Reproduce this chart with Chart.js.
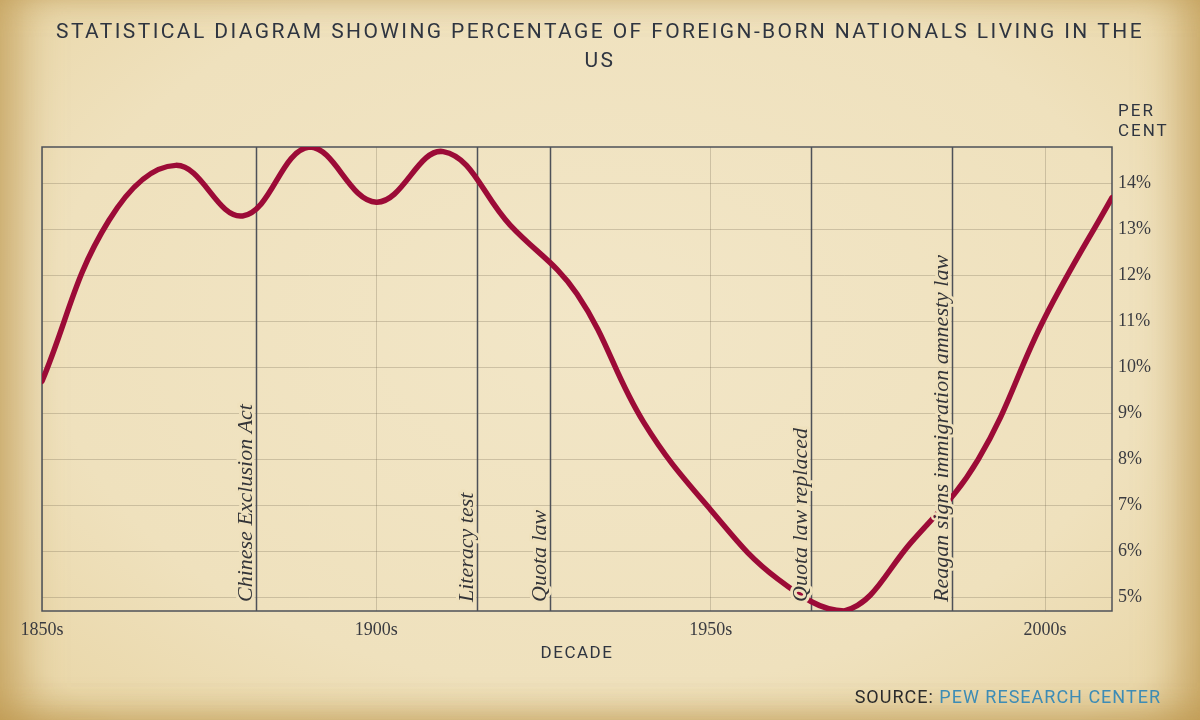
<!DOCTYPE html>
<html>
<head>
<meta charset="utf-8">
<script src="https://cdn.jsdelivr.net/npm/chart.js@4.4.1/dist/chart.umd.min.js"></script>
<style>
  html, body { margin: 0; padding: 0; }
  #wrap {
    width: 1200px; height: 720px; position: relative;
    background: radial-gradient(ellipse at 50% 45%, #f2e6c7 0%, #efe1bd 65%, #ead8ab 90%, #dfc792 100%);
    box-shadow: inset 34px 0 40px -12px rgba(185,145,70,0.6), inset -34px 0 40px -12px rgba(185,145,70,0.6),
                inset 0 -20px 30px -10px rgba(185,145,70,0.35);
  }
  canvas { position: absolute; left: 0; top: 0; }
</style>
</head>
<body>
<div id="wrap"><canvas id="chart"></canvas></div>
<script>
// foreign-born share of US population, by decade
var decades = [1850, 1860, 1870, 1880, 1890, 1900, 1910, 1920, 1930, 1940, 1950, 1960, 1970, 1980, 1990, 2000, 2010];
var percent = [9.7, 13.2, 14.4, 13.3, 14.8, 13.6, 14.7, 13.1, 11.6, 8.8, 6.9, 5.4, 4.7, 6.2, 8.0, 11.1, 13.7];

var eventYears = [1882, 1915, 1926, 1965, 1986];
var eventLabels = ['Chinese Exclusion Act', 'Literacy test', 'Quota law', 'Quota law replaced', 'Reagan signs immigration amnesty law'];

var yTicks = [5, 6, 7, 8, 9, 10, 11, 12, 13, 14];
var xTicks = [1850, 1900, 1950, 2000];

var titleLines = ['STATISTICAL DIAGRAM SHOWING PERCENTAGE OF FOREIGN-BORN NATIONALS LIVING IN THE', 'US'];

var inkColor = '#2f3540';
var lineColor = '#9c0b37';
var haloColor = '#efe1bd';
var frameColor = '#4e5158';
var gridColor = 'rgba(110,100,80,0.28)';

var points = decades.map(function (d, i) { return { x: d, y: percent[i] }; });

var eventPlugin = {
    id: 'events',
    beforeDatasetsDraw: function (chart) {
        var ctx = chart.ctx, a = chart.chartArea, xs = chart.scales.x;
        ctx.save();
        ctx.strokeStyle = frameColor; ctx.lineWidth = 1.5;
        eventYears.forEach(function (yr) {
            var x = Math.round(xs.getPixelForValue(yr)) + 0.5;
            ctx.beginPath(); ctx.moveTo(x, a.top); ctx.lineTo(x, a.bottom); ctx.stroke();
        });
        ctx.strokeRect(a.left, a.top, a.right - a.left, a.bottom - a.top);
        ctx.restore();
    },
    afterDatasetsDraw: function (chart) {
        var ctx = chart.ctx, a = chart.chartArea, xs = chart.scales.x;
        ctx.save();
        ctx.font = 'italic 22px "Liberation Serif"';
        ctx.textAlign = 'left'; ctx.textBaseline = 'alphabetic';
        eventYears.forEach(function (yr, i) {
            var x = xs.getPixelForValue(yr);
            ctx.save();
            ctx.translate(x - 4, a.bottom - 9);
            ctx.rotate(-Math.PI / 2);
            ctx.lineWidth = 6; ctx.lineJoin = 'round'; ctx.strokeStyle = haloColor;
            ctx.strokeText(eventLabels[i], 0, 0);
            ctx.fillStyle = '#333438';
            ctx.fillText(eventLabels[i], 0, 0);
            ctx.restore();
        });
        ctx.restore();
    },
    afterDraw: function (chart) {
        var ctx = chart.ctx, a = chart.chartArea;
        ctx.save();
        ctx.fillStyle = inkColor;
        ctx.textBaseline = 'alphabetic';
        // title
        ctx.font = '21px Roboto';
        ctx.letterSpacing = '2.4px';
        ctx.textAlign = 'center';
        ctx.fillText(titleLines[0], 600, 38);
        ctx.fillText(titleLines[1], 600, 67);
        // y axis title
        ctx.font = '17px Roboto';
        ctx.letterSpacing = '2px';
        ctx.textAlign = 'left';
        ctx.fillText('PER', a.right + 6, 116);
        ctx.fillText('CENT', a.right + 6, 136);
        // x axis title
        ctx.letterSpacing = '1.5px';
        ctx.textAlign = 'center';
        ctx.fillText('DECADE', (a.left + a.right) / 2, 658);
        // source
        ctx.font = '18px Roboto';
        ctx.letterSpacing = '1px';
        ctx.textAlign = 'right';
        ctx.fillStyle = '#3d8cb5';
        var src = 'PEW RESEARCH CENTER';
        ctx.fillText(src, 1161, 703);
        var w = ctx.measureText(src).width;
        ctx.fillStyle = '#2b2b2b';
        ctx.fillText('SOURCE: ', 1161 - w, 703);
        ctx.restore();
    }
};

new Chart(document.getElementById('chart').getContext('2d'), {
    type: 'line',
    data: {
        datasets: [{
            data: points, borderColor: lineColor, borderWidth: 5.5,
            pointRadius: 0, tension: 0.4, fill: false, borderCapStyle: 'round'
        }]
    },
    options: {
        responsive: true, maintainAspectRatio: false, animation: false,
        layout: { padding: { top: 147, left: 42, right: 0, bottom: 0 } },
        plugins: { legend: { display: false }, title: { display: false }, tooltip: { enabled: false } },
        scales: {
            x: {
                type: 'linear', min: 1850, max: 2010,
                afterBuildTicks: function (s) { s.ticks = xTicks.map(function (v) { return { value: v }; }); },
                ticks: {
                    padding: 8, color: '#3a3b40', maxRotation: 0, autoSkip: false,
                    font: { family: 'Liberation Serif', size: 18 },
                    callback: function (v) { return v + 's'; }
                },
                grid: { drawTicks: false, color: gridColor },
                border: { display: false },
                afterFit: function (s) { s.height = 109; }
            },
            y: {
                position: 'right', min: 4.7, max: 14.8,
                afterBuildTicks: function (s) { s.ticks = yTicks.map(function (v) { return { value: v }; }); },
                ticks: {
                    padding: 6, color: '#3a3b40', autoSkip: false,
                    font: { family: 'Liberation Serif', size: 18 },
                    callback: function (v) { return v + '%'; }
                },
                grid: { drawTicks: false, color: gridColor },
                border: { display: false },
                afterFit: function (s) { s.width = 88; }
            }
        }
    },
    plugins: [eventPlugin]
});
</script>
</body>
</html>
